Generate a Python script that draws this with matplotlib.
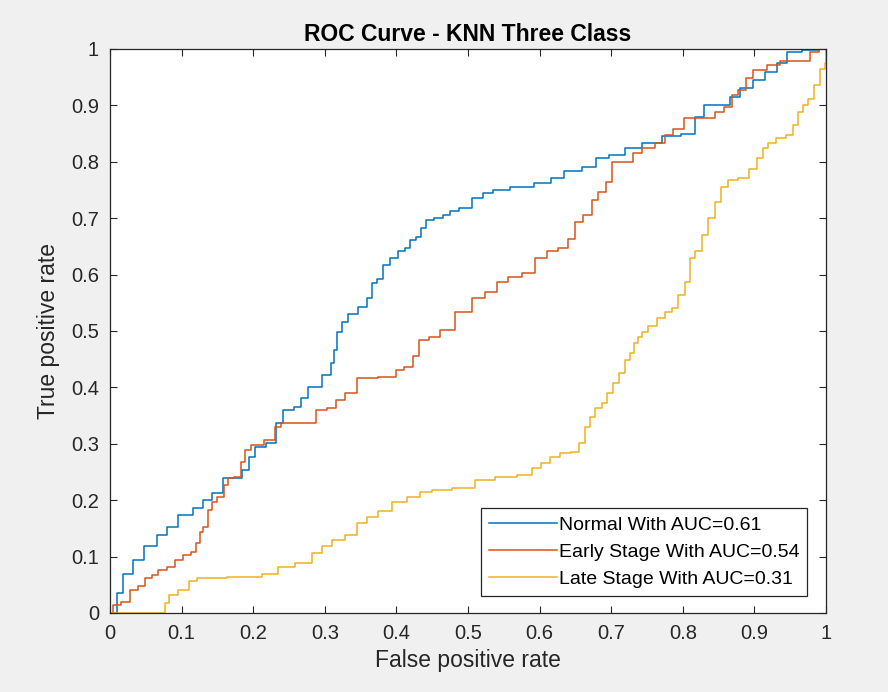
import matplotlib.pyplot as plt

# ROC curve points (false positive rate, true positive rate)
normal_fpr = [0, 0.007, 0.012, 0.023, 0.040, 0.056, 0.074, 0.086, 0.105, 0.128, 0.133, 0.151, 0.165,
              0.179, 0.189, 0.198, 0.207, 0.228, 0.235, 0.249, 0.265, 0.268, 0.286, 0.305, 0.312,
              0.314, 0.319, 0.328, 0.338, 0.356, 0.363, 0.368, 0.379, 0.384, 0.398, 0.407, 0.417,
              0.421, 0.433, 0.435, 0.447, 0.459, 0.472, 0.479, 0.496, 0.514, 0.528, 0.542, 0.575,
              0.610, 0.622, 0.645, 0.673, 0.684, 0.710, 0.729, 0.757, 0.784, 0.812, 0.822, 0.838,
              0.864, 0.868, 0.892, 0.905, 0.924, 0.938, 0.954, 0.980, 1.0]
normal_tpr = [0, 0, 0.035, 0.070, 0.094, 0.118, 0.138, 0.153, 0.174, 0.186, 0.200, 0.212, 0.239,
              0.239, 0.254, 0.277, 0.295, 0.301, 0.336, 0.360, 0.366, 0.381, 0.401, 0.422, 0.443,
              0.466, 0.499, 0.516, 0.531, 0.543, 0.558, 0.585, 0.593, 0.617, 0.629, 0.641, 0.647,
              0.661, 0.667, 0.682, 0.697, 0.700, 0.706, 0.712, 0.718, 0.735, 0.744, 0.750, 0.756,
              0.762, 0.771, 0.783, 0.791, 0.806, 0.812, 0.824, 0.833, 0.845, 0.850, 0.880, 0.901,
              0.901, 0.915, 0.930, 0.945, 0.960, 0.975, 0.995, 0.998, 1.0]

early_fpr = [0, 0.009, 0.023, 0.033, 0.044, 0.053, 0.063, 0.072, 0.086, 0.095, 0.109, 0.116, 0.123,
             0.128, 0.133, 0.140, 0.144, 0.156, 0.163, 0.168, 0.179, 0.186, 0.191, 0.203, 0.226,
             0.235, 0.242, 0.282, 0.293, 0.312, 0.319, 0.338, 0.352, 0.396, 0.403, 0.419, 0.426,
             0.438, 0.454, 0.468, 0.496, 0.514, 0.533, 0.547, 0.566, 0.584, 0.603, 0.617, 0.635,
             0.645, 0.654, 0.668, 0.677, 0.687, 0.698, 0.703, 0.729, 0.733, 0.752, 0.770, 0.780,
             0.794, 0.808, 0.840, 0.850, 0.864, 0.873, 0.882, 0.894, 0.901, 0.933, 0.938, 0.975,
             0.980, 1.0]
early_tpr = [0, 0.014, 0.020, 0.041, 0.047, 0.062, 0.067, 0.076, 0.082, 0.094, 0.103, 0.109, 0.124,
             0.144, 0.153, 0.183, 0.197, 0.206, 0.227, 0.239, 0.242, 0.268, 0.289, 0.298, 0.307,
             0.330, 0.336, 0.336, 0.360, 0.363, 0.378, 0.390, 0.416, 0.419, 0.431, 0.437, 0.455,
             0.484, 0.490, 0.502, 0.534, 0.558, 0.570, 0.587, 0.596, 0.602, 0.629, 0.641, 0.647,
             0.664, 0.694, 0.706, 0.732, 0.747, 0.765, 0.800, 0.800, 0.815, 0.824, 0.833, 0.848,
             0.859, 0.877, 0.877, 0.889, 0.898, 0.918, 0.927, 0.948, 0.963, 0.972, 0.978, 0.978,
             0.995, 1.0]

late_fpr = [0, 0.074, 0.079, 0.086, 0.105, 0.116, 0.128, 0.198, 0.226, 0.244, 0.272, 0.291, 0.300,
            0.319, 0.338, 0.352, 0.365, 0.384, 0.403, 0.426, 0.440, 0.459, 0.496, 0.524, 0.552,
            0.584, 0.596, 0.608, 0.622, 0.635, 0.652, 0.659, 0.668, 0.673, 0.682, 0.691, 0.696,
            0.708, 0.715, 0.724, 0.729, 0.736, 0.738, 0.747, 0.757, 0.770, 0.780, 0.789, 0.798,
            0.808, 0.812, 0.822, 0.831, 0.840, 0.850, 0.857, 0.868, 0.887, 0.898, 0.908, 0.917,
            0.922, 0.938, 0.950, 0.957, 0.966, 0.971, 0.980, 0.987, 0.996, 1.0, 1.0]
late_tpr = [0, 0, 0.017, 0.032, 0.041, 0.056, 0.062, 0.064, 0.070, 0.082, 0.088, 0.106, 0.118,
            0.129, 0.138, 0.159, 0.171, 0.180, 0.197, 0.206, 0.215, 0.218, 0.221, 0.236, 0.242,
            0.245, 0.257, 0.266, 0.277, 0.283, 0.286, 0.301, 0.330, 0.348, 0.363, 0.372, 0.390,
            0.407, 0.425, 0.449, 0.461, 0.478, 0.490, 0.499, 0.508, 0.523, 0.534, 0.540, 0.564,
            0.587, 0.629, 0.641, 0.670, 0.700, 0.729, 0.756, 0.768, 0.771, 0.788, 0.806, 0.824,
            0.833, 0.842, 0.848, 0.865, 0.889, 0.901, 0.912, 0.936, 0.965, 0.975, 1.0]

labels = ['Normal With AUC=0.61', 'Early Stage With AUC=0.54', 'Late Stage With AUC=0.31']
colors = ['#0072BD', '#D95319', '#EDB120']
ticks = [0, 0.1, 0.2, 0.3, 0.4, 0.5, 0.6, 0.7, 0.8, 0.9, 1]
tick_labels = ['0', '0.1', '0.2', '0.3', '0.4', '0.5', '0.6', '0.7', '0.8', '0.9', '1']

plt.rcParams['font.family'] = ['Liberation Sans', 'DejaVu Sans']
axcol = '#262626'

fig = plt.figure(figsize=(8.88, 6.92), dpi=100, facecolor='#f0f0f0')
ax = fig.add_axes([110 / 888, 79 / 692, 716 / 888, 564 / 692])
ax.set_facecolor('white')

# roc curves are staircases, so draw them as steps
for fpr, tpr, lab, col in zip([normal_fpr, early_fpr, late_fpr],
                              [normal_tpr, early_tpr, late_tpr], labels, colors):
    ax.plot(fpr, tpr, color=col, linewidth=1.1, label=lab, drawstyle='steps-mid')

ax.set_xlim(0, 1)
ax.set_ylim(0, 1)
ax.set_xticks(ticks)
ax.set_xticklabels(tick_labels)
ax.set_yticks(ticks)
ax.set_yticklabels(tick_labels)
ax.tick_params(direction='in', length=5, width=0.8, top=True, right=True,
               labelsize=14.5, colors=axcol, pad=8)
for sp in ax.spines.values():
    sp.set_color(axcol)
    sp.set_linewidth(0.9)

ax.set_title('ROC Curve - KNN Three Class', fontsize=16.5, fontweight='bold', color='black', pad=6)
ax.set_xlabel('False positive rate', fontsize=16.5, color=axcol, labelpad=4)
ax.set_ylabel('True positive rate', fontsize=16.5, color=axcol, labelpad=8)

leg = ax.legend(loc='lower right', bbox_to_anchor=(0.9735, 0.030), borderaxespad=0,
                fontsize=14, fancybox=False, edgecolor=axcol, framealpha=1,
                handlelength=3.5, handletextpad=0.1, labelspacing=0.5, borderpad=0.4)
leg.get_frame().set_linewidth(0.9)

plt.savefig('out.png', dpi=100, facecolor=fig.get_facecolor())
